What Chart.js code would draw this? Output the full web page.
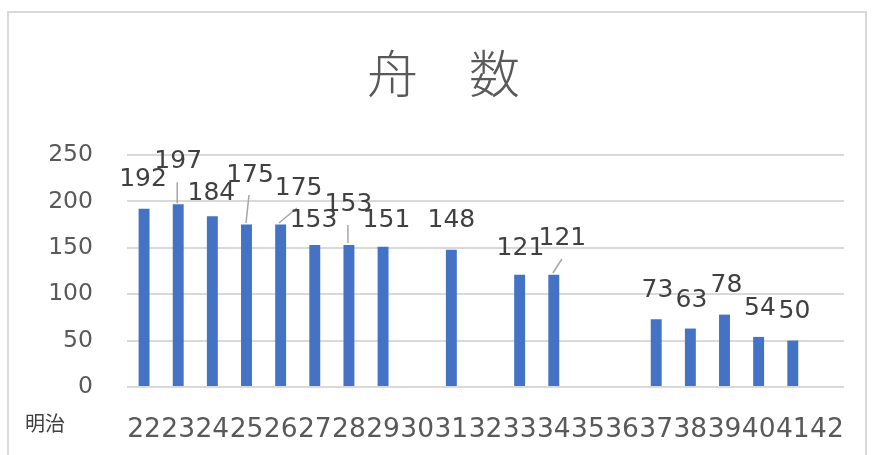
<!DOCTYPE html>
<html><head><meta charset="utf-8">
<script src="https://cdn.jsdelivr.net/npm/chart.js@4.4.0/dist/chart.umd.min.js"></script>
<style>html,body{margin:0;padding:0;background:#fff;}#wrap{position:relative;width:881px;height:455px;}</style>
</head><body><div id="wrap"><canvas id="c" width="881" height="455"></canvas></div>
<script>
// ---- data ----
const categories = ['22','23','24','25','26','27','28','29','30','31','32','33','34','35','36','37','38','39','40','41','42'];
const boatCounts = [192,197,184,175,175,153,153,151,null,148,null,121,121,null,null,73,63,78,54,50,null];
const yTickValues = [0,50,100,150,200,250];
const titleText = '舟　数';
const eraLabel = '明治';

// ---- styling: data label offsets from bar top [dx, dy], optional leader [sx, sy, ex, ey] ----
const labelOffsets = [
  [-1,-32],[0,-45,-1,-1,-1,-22],[-1,-25],[3.5,-52,-0.5,-1.6,2.5,-29.6],[18,-38.6,-1.7,-1.6,16.3,-16.6],
  [-1.3,-27.5],[-0.5,-43,-1,-2,-1,-20],[3.4,-29.4],null,[0,-32.2],null,[0.8,-28.7],[8.6,-38.7,-0.9,-1.7,8.1,-15.7],
  null,null,[1.3,-31.8],[1.1,-31],[2,-32.1],[1.3,-30.9],[1.7,-31.6],null
];

const decor = {
  id:'decor',
  beforeDraw(chart){
    const c = chart.ctx;
    c.save();
    c.fillStyle = '#fff';
    c.fillRect(0,0,chart.width,chart.height);
    c.strokeStyle = '#d9d9d9';
    c.lineWidth = 2;
    c.beginPath();
    c.moveTo(8,460); c.lineTo(8,12); c.lineTo(866,12); c.lineTo(866,460);
    c.stroke();
    c.restore();
  },
  afterDraw(chart){
    const c = chart.ctx;
    c.save();
    c.fillStyle = '#595959';
    c.font = "300 51px 'Noto Sans CJK JP'";
    c.textAlign = 'center';
    c.textBaseline = 'middle';
    c.fillText(titleText, 443.5, 74);
    c.fillStyle = '#404040';
    c.font = "20px 'Noto Sans CJK JP'";
    c.textAlign = 'left';
    c.fillText(eraLabel, 25, 423.5);
    c.restore();
  }
};

const dataLabels = {
  id:'dataLabels',
  afterDatasetsDraw(chart){
    const c = chart.ctx;
    const meta = chart.getDatasetMeta(0);
    c.save();
    const size = 25;
    c.font = size + "px 'DejaVu Sans'";
    c.textAlign = 'center';
    c.textBaseline = 'alphabetic';
    meta.data.forEach((bar,i)=>{
      const v = boatCounts[i];
      const off = labelOffsets[i];
      if (v == null || !off) return;
      if (off.length > 2) {
        c.strokeStyle = '#a6a6a6';
        c.lineWidth = 1.5;
        c.beginPath();
        c.moveTo(bar.x + off[2], bar.y + off[3]);
        c.lineTo(bar.x + off[4], bar.y + off[5]);
        c.stroke();
      }
      c.fillStyle = '#404040';
      c.fillText(String(v), bar.x + off[0], bar.y + off[1] + 0.364*size);
    });
    c.restore();
  }
};

new Chart(document.getElementById('c').getContext('2d'), {
  type:'bar',
  data:{
    labels:categories,
    datasets:[{data:boatCounts, backgroundColor:'#4472C4', barPercentage:0.32, categoryPercentage:1.0}]
  },
  options:{
    responsive:false, animation:false, devicePixelRatio:1,
    layout:{padding:{top:155,left:0,right:37,bottom:0}},
    plugins:{
      legend:{display:false},
      tooltip:{enabled:false},
      title:{display:false}
    },
    scales:{
      x:{
        grid:{display:false}, border:{display:false},
        ticks:{autoSkip:false, maxRotation:0, minRotation:0, color:'#595959',
          font:{family:"'DejaVu Sans'", size:26.5}, padding:19},
        afterFit(s){ s.height = 68; }
      },
      y:{
        min:0, max:250,
        afterBuildTicks(s){ s.ticks = yTickValues.map(v=>({value:v})); },
        grid:{color:'#d9d9d9', lineWidth:2, drawTicks:false},
        border:{display:false},
        ticks:{color:'#595959', font:{family:"'DejaVu Sans'", size:23.5}, padding:34},
        afterFit(s){ s.width = 127; }
      }
    }
  },
  plugins:[decor, dataLabels]
});
</script>
</body></html>
